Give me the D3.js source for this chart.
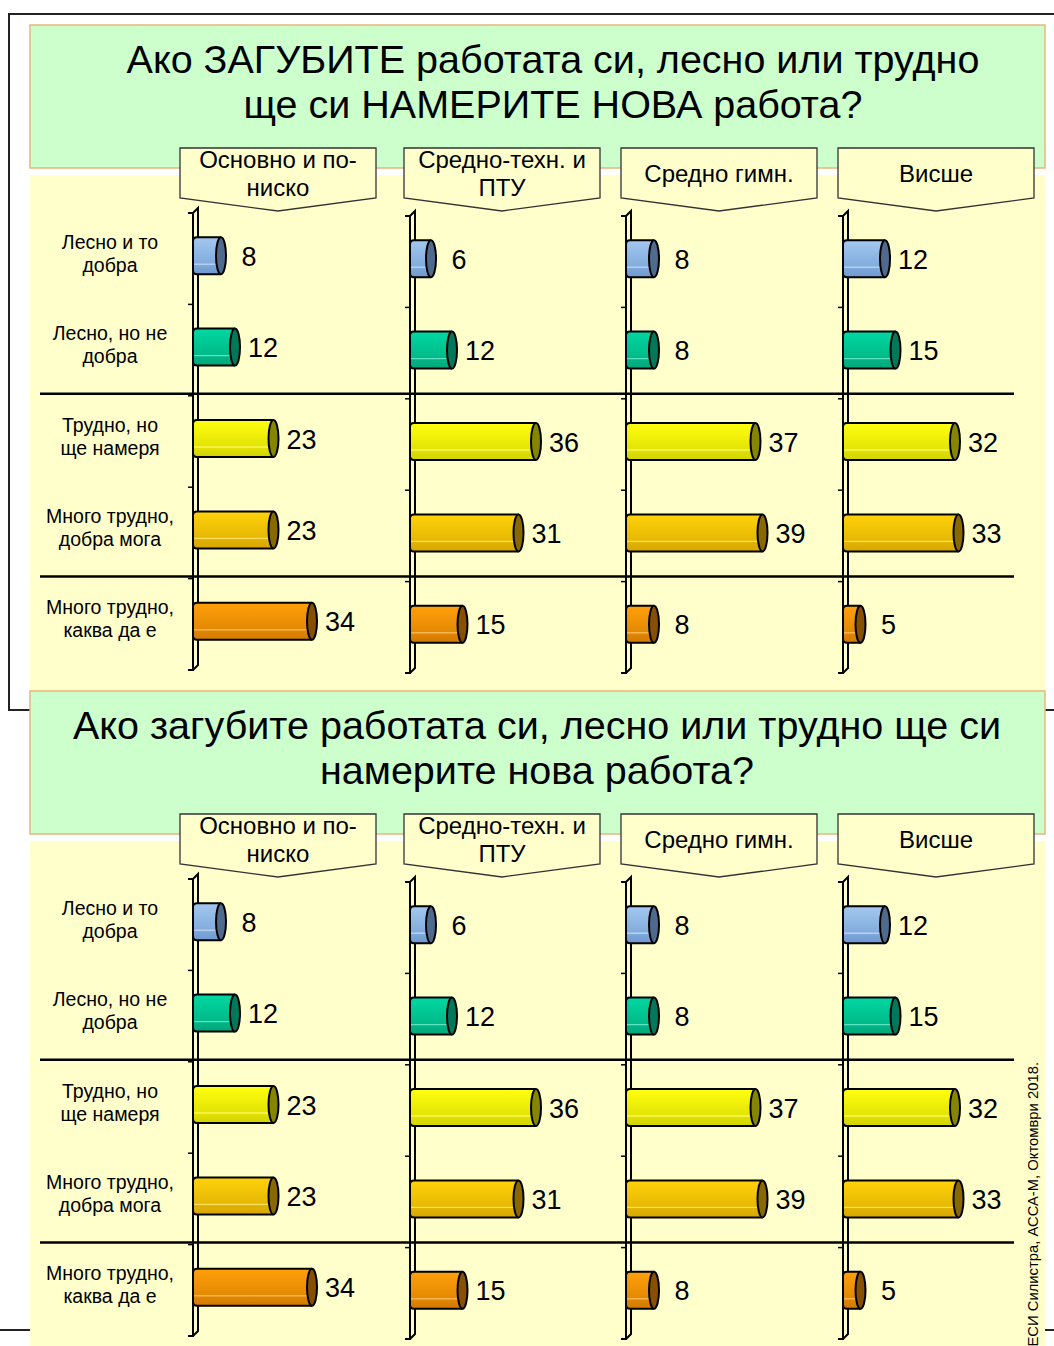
<!DOCTYPE html>
<html>
<head>
<meta charset="utf-8">
<script src="https://d3js.org/d3.v7.min.js"></script>
<style>
  body { margin: 0; background: #fff; }
  text { font-family: "Liberation Sans", Arial, sans-serif; fill: #000; }
</style>
</head>
<body>
<script>
// data
var categories = [["Лесно и то", "добра"], ["Лесно, но не", "добра"], ["Трудно, но", "ще намеря"],
                  ["Много трудно,", "добра мога"], ["Много трудно,", "каква да е"]];
var groups = [["Основно и по-", "ниско"], ["Средно-техн. и", "ПТУ"], ["Средно гимн."], ["Висше"]];
var basic   = [8, 12, 23, 23, 34];
var secTech = [6, 12, 36, 31, 15];
var secGen  = [8, 8, 37, 39, 8];
var higher  = [12, 15, 32, 33, 5];
var series = [basic, secTech, secGen, higher];
var title1 = ["Ако ЗАГУБИТЕ работата си, лесно или трудно", "ще си НАМЕРИТЕ НОВА работа?"];
var title2 = ["Ако загубите работата си, лесно или трудно ще си", "намерите нова работа?"];
var source = "ЕСИ Силистра, АССА-М, Октомври 2018.";

// bar colours: [top, bottom, end cap]
var barColors = [["#a3c8f0", "#6e99d0", "#4e6a8c"],
                 ["#00d8a2", "#00a679", "#00785a"],
                 ["#ffff10", "#d2d200", "#858500"],
                 ["#ffd20a", "#d6a600", "#876900"],
                 ["#ffa00a", "#d27a00", "#875000"]];

var W = 1054, H = 1346;
var axisX = [193, 410, 626, 843];
var boxX = [180, 404, 621, 838];
var bandTop = [210, 213, 213, 213];
var bandH = 457;

var svg = d3.select("body").append("svg")
  .attr("width", W).attr("height", H);

var defs = svg.append("defs");
barColors.forEach(function(c, i) {
  var g = defs.append("linearGradient").attr("id", "bg" + i)
    .attr("x1", 0).attr("y1", 0).attr("x2", 0).attr("y2", 1);
  g.append("stop").attr("offset", "0%").attr("stop-color", c[0]);
  g.append("stop").attr("offset", "70%").attr("stop-color", d3.interpolateRgb(c[0], c[1])(0.6));
  g.append("stop").attr("offset", "73%").attr("stop-color", d3.interpolateRgb(c[0], "#fff")(0.4));
  g.append("stop").attr("offset", "76%").attr("stop-color", d3.interpolateRgb(c[0], c[1])(0.7));
  g.append("stop").attr("offset", "100%").attr("stop-color", c[1]);
});

var xScale = d3.scaleLinear().domain([0, 40]).range([0, 140]);

// outer frames
svg.append("rect").attr("x", 9).attr("y", 14).attr("width", 1100).attr("height", 696)
  .attr("fill", "none").attr("stroke", "#222").attr("stroke-width", 2);
svg.append("rect").attr("x", -10).attr("y", 1330).attr("width", 1100).attr("height", 100)
  .attr("fill", "none").attr("stroke", "#222").attr("stroke-width", 2);

function drawPanel(dy, titleLines, titleCx) {
  var p = svg.append("g").attr("transform", "translate(0," + dy + ")");

  p.append("rect").attr("x", 30).attr("y", 175).attr("width", 1015).attr("height", 520)
    .attr("fill", "#ffffcc");
  p.append("rect").attr("x", 30).attr("y", 25).attr("width", 1015).attr("height", 143)
    .attr("fill", "#ccffcc").attr("stroke", "#e9b77a").attr("stroke-width", 1.5);

  p.selectAll(".title").data(titleLines).enter().append("text")
    .attr("class", "title")
    .attr("x", titleCx).attr("y", function(d, i) { return 73 + i * 45; })
    .attr("text-anchor", "middle").style("font-size", "39.5px")
    .text(function(d) { return d; });

  // separators
  [2, 4].forEach(function(k) {
    var y = bandTop[0] + k * bandH / 5 + 1;
    p.append("line").attr("x1", 40).attr("x2", 1014).attr("y1", y).attr("y2", y)
      .attr("stroke", "#000").attr("stroke-width", 2.5);
  });

  // category labels
  var yCat = d3.scaleBand().domain(d3.range(5)).range([bandTop[0], bandTop[0] + bandH]);
  categories.forEach(function(c, i) {
    var t = p.append("text").attr("text-anchor", "middle").style("font-size", "19.5px")
      .attr("transform", "translate(110," + (yCat(i) + yCat.bandwidth() / 2) + ")");
    c.forEach(function(line, j) {
      t.append("tspan").attr("x", 0).attr("y", -7 + j * 23).text(line);
    });
  });

  series.forEach(function(vals, gi) {
    var ax = axisX[gi];
    var y = d3.scaleBand().domain(d3.range(5)).range([bandTop[gi], bandTop[gi] + bandH]);
    var y0 = bandTop[gi], y1 = bandTop[gi] + bandH;
    var g = p.append("g");

    // header box
    var bx = boxX[gi], bw = 196;
    g.append("path")
      .attr("d", "M" + bx + ",148H" + (bx + bw) + "V198L" + (bx + bw / 2) + ",211L" + bx + ",198Z")
      .attr("fill", "#ffffcc").attr("stroke", "#333").attr("stroke-width", 1.3);
    var lines = groups[gi];
    lines.forEach(function(l, j) {
      g.append("text").attr("x", bx + bw / 2)
        .attr("y", (lines.length === 1 ? 182 : 168) + j * 28)
        .attr("text-anchor", "middle").style("font-size", "24px").text(l);
    });

    // 3d axis wall
    var ax2 = ax + 5;
    g.append("path")
      .attr("d", "M" + ax + "," + (y0 + 3) + "V" + (y1 + 3) + "H" + (ax - 5) +
                 "M" + ax + "," + (y1 + 3) + "L" + ax2 + "," + (y1 - 2) + "V" + (y0 - 2) +
                 "L" + ax + "," + (y0 + 3) + "H" + (ax - 5))
      .attr("fill", "none").attr("stroke", "#000").attr("stroke-width", 2);
    d3.range(1, 5).forEach(function(k) {
      var ty = y0 + k * y.step() + 3;
      g.append("line").attr("x1", ax - 5).attr("x2", ax).attr("y1", ty).attr("y2", ty)
        .attr("stroke", "#000").attr("stroke-width", 1.5);
    });

    // cylinders
    var bars = g.selectAll(".bar").data(vals).enter().append("g").attr("class", "bar");
    var bh = 37;
    bars.append("path")
      .attr("d", function(d, i) {
        var cy = y(i) + y.bandwidth() / 2, xe = ax + xScale(d);
        return "M" + xe + "," + (cy - bh / 2) + "H" + (ax + 4) +
               "Q" + ax + "," + (cy - bh / 2) + " " + ax + "," + (cy - bh / 2 + 4) +
               "V" + (cy + bh / 2 - 4) +
               "Q" + ax + "," + (cy + bh / 2) + " " + (ax + 4) + "," + (cy + bh / 2) +
               "H" + xe;
      })
      .attr("fill", function(d, i) { return "url(#bg" + i + ")"; })
      .attr("stroke", "#000").attr("stroke-width", 2);
    bars.append("ellipse")
      .attr("cx", function(d) { return ax + xScale(d); })
      .attr("cy", function(d, i) { return y(i) + y.bandwidth() / 2; })
      .attr("rx", 5).attr("ry", bh / 2)
      .attr("fill", function(d, i) { return barColors[i][2]; })
      .attr("stroke", "#000").attr("stroke-width", 2);
    bars.append("text")
      .attr("x", function(d) { return ax + xScale(d) + 28; })
      .attr("y", function(d, i) { return y(i) + y.bandwidth() / 2 + 10; })
      .attr("text-anchor", "middle").style("font-size", "27px")
      .text(function(d) { return d; });
  });
  return p;
}

drawPanel(0, title1, 553);
drawPanel(666, title2, 537);

// source note
svg.append("text")
  .attr("transform", "translate(1038,1062) rotate(-90)")
  .attr("text-anchor", "end").style("font-size", "14.8px")
  .text(source);
</script>
</body>
</html>
